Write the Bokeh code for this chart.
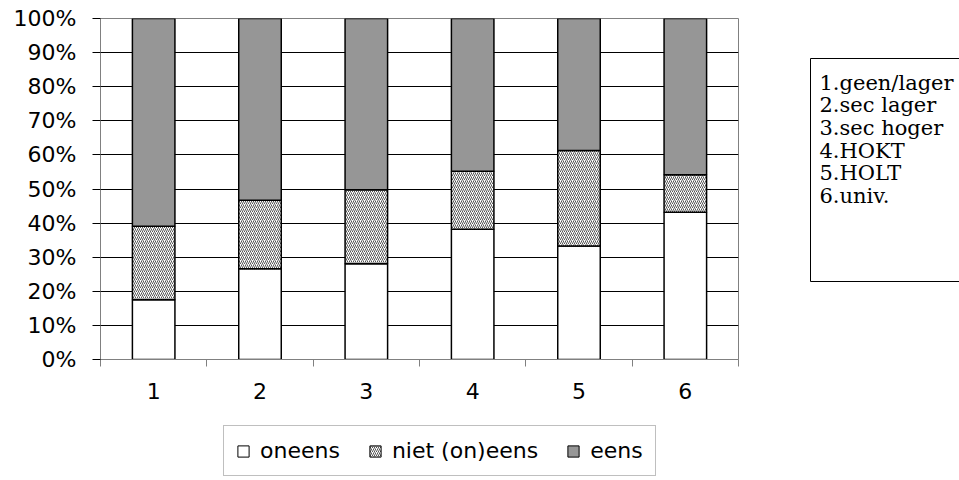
from bokeh.plotting import figure
from bokeh.layouts import column, row
from bokeh.models import (Range1d, FixedTicker, Legend, LegendItem, ColumnDataSource)
from bokeh.core.properties import value
from bokeh.embed import file_html
from bokeh.resources import INLINE

categories = ["1", "2", "3", "4", "5", "6"]
oneens = [17.5, 26.6, 28.1, 38.2, 33.3, 43.2]
niet_oneens = [21.6, 20.1, 21.7, 17.0, 28.0, 11.0]
eens = [60.9, 53.3, 50.2, 44.8, 38.7, 45.8]
series_names = ["oneens", "niet (on)eens", "eens"]
y_ticks = [0, 10, 20, 30, 40, 50, 60, 70, 80, 90, 100]
note_lines = ["1.geen/lager", "2.sec lager", "3.sec hoger", "4.HOKT", "5.HOLT", "6.univ."]

SANS = "DejaVu Sans"
SERIF = "DejaVu Serif"
GRAY = "#969696"

styles = [dict(fill_color="white"),
          dict(fill_color="white", hatch_pattern="right_diagonal_line", hatch_color="#555555",
               hatch_scale=4, hatch_weight=1),
          dict(fill_color=GRAY)]

xs = [i + 0.5 for i in range(len(categories))]
t1 = list(oneens)
t2 = [a + b for a, b in zip(t1, niet_oneens)]
t3 = [a + b for a, b in zip(t2, eens)]
src = ColumnDataSource(dict(x=xs, b1=[0] * len(xs), t1=t1, t2=t2, t3=t3))

FRAME_TOP, FRAME_H = 18, 341

# ---------------- main chart ----------------
p = figure(width=808, height=410, frame_width=638, frame_height=FRAME_H,
           min_border_left=100, min_border_right=70, min_border_top=FRAME_TOP, min_border_bottom=51,
           x_range=Range1d(0, 6), y_range=Range1d(0, 100),
           output_backend="svg", toolbar_location=None)
p.outline_line_color = "#808080"

for (bot, top), st in zip([("b1", "t1"), ("t1", "t2"), ("t2", "t3")], styles):
    p.vbar(x="x", bottom=bot, top=top, width=0.4, source=src,
           line_color="black", line_width=1.5, **st)

p.yaxis.ticker = FixedTicker(ticks=y_ticks)
p.yaxis.major_label_overrides = {v: f"{v}%" for v in y_ticks}
p.yaxis.major_label_text_font = SANS
p.yaxis.major_label_text_font_size = "22px"
p.yaxis.major_label_text_color = "black"
p.yaxis.major_tick_out = 8
p.yaxis.major_tick_in = 0
p.yaxis.minor_tick_out = 0
p.yaxis.minor_tick_in = 0
p.yaxis.major_label_standoff = 16
p.yaxis.axis_line_color = "#808080"
p.yaxis.major_tick_line_color = "black"

p.xaxis.ticker = FixedTicker(ticks=xs, minor_ticks=list(range(len(categories) + 1)))
p.xaxis.major_label_overrides = {x: c for x, c in zip(xs, categories)}
p.xaxis.major_label_text_font = SANS
p.xaxis.major_label_text_font_size = "22px"
p.xaxis.major_label_text_color = "black"
p.xaxis.major_tick_out = 0
p.xaxis.major_tick_in = 0
p.xaxis.minor_tick_out = 7
p.xaxis.minor_tick_in = 0
p.xaxis.minor_tick_line_color = "#808080"
p.xaxis.major_label_standoff = 16
p.xaxis.axis_line_color = "#808080"

p.xgrid.visible = False
p.ygrid.ticker = FixedTicker(ticks=y_ticks[1:-1])
p.ygrid.grid_line_color = "black"
p.ygrid.grid_line_width = 1

# ---------------- note box (right) ----------------
# its frame is aligned with the main chart's frame (screen y 18..359)
nb_w, nb_h = 151, 410
nb = figure(width=nb_w, height=nb_h, min_border=0, x_range=Range1d(0, nb_w),
            y_range=Range1d(FRAME_TOP + FRAME_H, FRAME_TOP), x_axis_type=None, y_axis_type=None,
            output_backend="svg", toolbar_location=None)
nb.outline_line_color = None
nb.grid.visible = False
nb.quad(left=2, right=nb_w + 5, top=58, bottom=281, fill_color="white",
        line_color="black", line_width=1)
nb.text(x=[11] * len(note_lines), y=[82 + i * 22.7 for i in range(len(note_lines))],
        text=note_lines, text_font=value(SERIF), text_font_size="21px",
        text_baseline="alphabetic", text_color="black")

# ---------------- legend strip (bottom) ----------------
lg_w, lg_h = 959, 70
lg = figure(width=lg_w, height=lg_h, min_border=0, x_range=Range1d(0, lg_w),
            y_range=Range1d(0, lg_h), x_axis_type=None, y_axis_type=None,
            output_backend="svg", toolbar_location=None)
lg.outline_line_color = None
lg.grid.visible = False
offscreen = ColumnDataSource(dict(x=[-1000], top=[-1000], bottom=[-1001]))
rs = [lg.vbar(x="x", top="top", bottom="bottom", width=1, source=offscreen,
              line_color="black", line_width=1, **st) for st in styles]
legend = Legend(items=[LegendItem(label=n, renderers=[r]) for n, r in zip(series_names, rs)],
                orientation="horizontal", location=(223, 4),
                label_text_font=SANS, label_text_font_size="22px", label_text_color="black",
                glyph_width=14, glyph_height=14, label_standoff=10, spacing=28,
                padding=12, margin=0, border_line_color="#808080",
                background_fill_color="white", background_fill_alpha=1)
lg.add_layout(legend)

layout = column(row(p, nb, spacing=0), lg, spacing=0)
open("out.html", "w").write(file_html(layout, INLINE))
